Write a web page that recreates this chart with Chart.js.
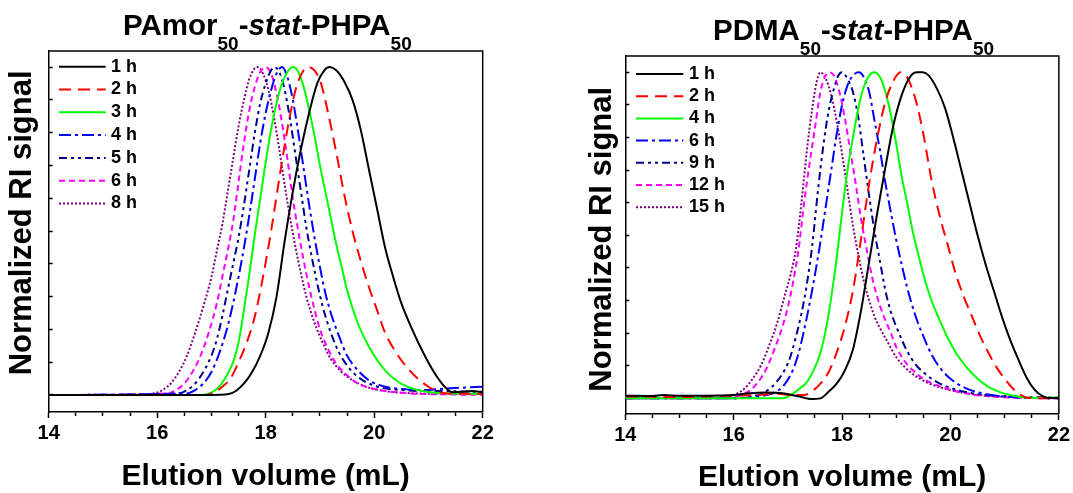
<!DOCTYPE html>
<html>
<head>
<meta charset="utf-8">
<script src="https://cdn.jsdelivr.net/npm/chart.js@4"></script>
<style>
  html, body { margin: 0; padding: 0; background: #fff; }
  body { width: 1073px; height: 493px; position: relative; overflow: hidden; font-family: "Liberation Sans", Arial, sans-serif; }
  .panel { position: absolute; top: 0; }
  .title { position: absolute; font-weight: bold; font-size: 29.5px; line-height: 30px; white-space: nowrap; color: #000; }
  .title sub { font-size: 19px; vertical-align: -15px; line-height: 0; }
</style>
</head>
<body>
<canvas id="left" class="panel" width="540" height="493" style="left:0"></canvas>
<canvas id="right" class="panel" width="533" height="493" style="left:540px"></canvas>
<div class="title" style="left:123px; top:10px">PAmor<sub>50</sub>-<i>stat</i>-PHPA<sub>50</sub></div>
<div class="title" style="left:713px; top:15px">PDMA<sub>50</sub>-<i>stat</i>-PHPA<sub>50</sub></div>
<script>
'use strict'

// ---- data: [elution volume (mL), normalized RI] ----

// PAmor50-stat-PHPA50
const pamorLabels = ['1 h', '2 h', '3 h', '4 h', '5 h', '6 h', '8 h']
const pamor1h = [[14, 0], [17.0, 0], [17.3, 0.002], [17.45, 0.012], [17.6, 0.035], [17.75, 0.07], [17.9, 0.12], [18.05, 0.19], [18.2, 0.3], [18.35, 0.47], [18.5, 0.62], [18.65, 0.75], [18.8, 0.86], [18.95, 0.95], [19.08, 0.99], [19.18, 1.0], [19.3, 0.99], [19.45, 0.955], [19.6, 0.9], [19.75, 0.81], [19.9, 0.69], [20.05, 0.57], [20.2, 0.45], [20.35, 0.36], [20.5, 0.28], [20.7, 0.2], [20.9, 0.13], [21.1, 0.07], [21.3, 0.025], [21.45, 0.008], [21.6, 0.01], [21.8, 0.012], [22, 0.008]]
const pamor2h = [[14, 0], [16.9, 0], [17.05, 0.008], [17.2, 0.025], [17.35, 0.05], [17.5, 0.1], [17.65, 0.16], [17.8, 0.24], [17.95, 0.36], [18.1, 0.5], [18.25, 0.66], [18.4, 0.81], [18.55, 0.93], [18.68, 0.985], [18.79, 1.0], [18.9, 0.99], [19.02, 0.95], [19.15, 0.86], [19.3, 0.74], [19.45, 0.61], [19.6, 0.5], [19.75, 0.41], [19.9, 0.33], [20.05, 0.26], [20.2, 0.19], [20.4, 0.13], [20.6, 0.085], [20.8, 0.05], [21.0, 0.025], [21.15, 0.012], [21.3, 0.005], [21.6, 0.004], [22, 0.003]]
const pamor3h = [[14, 0], [16.8, 0], [16.95, 0.004], [17.1, 0.018], [17.25, 0.05], [17.4, 0.1], [17.5, 0.16], [17.6, 0.26], [17.7, 0.37], [17.8, 0.49], [17.9, 0.6], [18.0, 0.71], [18.1, 0.81], [18.2, 0.89], [18.3, 0.95], [18.4, 0.985], [18.51, 1.0], [18.6, 0.985], [18.7, 0.94], [18.8, 0.87], [18.9, 0.79], [19.0, 0.7], [19.1, 0.62], [19.2, 0.54], [19.3, 0.46], [19.4, 0.39], [19.5, 0.32], [19.65, 0.24], [19.8, 0.18], [20.0, 0.12], [20.2, 0.075], [20.4, 0.045], [20.6, 0.026], [20.8, 0.015], [21.0, 0.009], [21.3, 0.005], [21.6, 0.004], [22, 0.003]]
const pamor4h = [[14, 0], [16.55, 0.005], [16.7, 0.015], [16.85, 0.035], [17.0, 0.07], [17.15, 0.13], [17.3, 0.21], [17.4, 0.28], [17.5, 0.36], [17.6, 0.45], [17.7, 0.55], [17.8, 0.66], [17.9, 0.77], [18.0, 0.86], [18.1, 0.93], [18.2, 0.98], [18.3, 1.0], [18.4, 0.97], [18.5, 0.9], [18.6, 0.8], [18.7, 0.69], [18.8, 0.58], [18.9, 0.48], [19.0, 0.39], [19.1, 0.31], [19.2, 0.25], [19.35, 0.18], [19.5, 0.12], [19.7, 0.075], [19.9, 0.045], [20.1, 0.03], [20.3, 0.022], [20.6, 0.017], [20.9, 0.015], [21.2, 0.018], [21.6, 0.022], [22, 0.025]]
const pamor5h = [[14, 0], [16.4, 0.005], [16.55, 0.015], [16.7, 0.035], [16.85, 0.07], [17.0, 0.12], [17.1, 0.17], [17.2, 0.24], [17.3, 0.32], [17.4, 0.4], [17.5, 0.48], [17.6, 0.58], [17.7, 0.69], [17.8, 0.8], [17.9, 0.89], [18.0, 0.95], [18.1, 0.99], [18.16, 1.0], [18.25, 0.985], [18.35, 0.93], [18.45, 0.84], [18.55, 0.73], [18.65, 0.62], [18.75, 0.51], [18.85, 0.42], [18.95, 0.34], [19.05, 0.27], [19.2, 0.19], [19.35, 0.13], [19.5, 0.09], [19.7, 0.055], [19.9, 0.035], [20.2, 0.02], [20.5, 0.015], [20.9, 0.012], [21.3, 0.012], [21.7, 0.01], [22, 0.01]]
const pamor6h = [[14, 0], [16.2, 0.005], [16.35, 0.015], [16.5, 0.035], [16.65, 0.07], [16.8, 0.12], [16.95, 0.19], [17.1, 0.28], [17.2, 0.36], [17.3, 0.44], [17.4, 0.53], [17.5, 0.65], [17.6, 0.77], [17.7, 0.87], [17.8, 0.94], [17.9, 0.985], [18.0, 1.0], [18.1, 0.98], [18.2, 0.92], [18.3, 0.83], [18.4, 0.72], [18.5, 0.6], [18.6, 0.5], [18.7, 0.41], [18.8, 0.33], [18.9, 0.26], [19.0, 0.2], [19.15, 0.14], [19.3, 0.095], [19.5, 0.06], [19.7, 0.035], [20.0, 0.018], [20.3, 0.01], [20.7, 0.004], [21.2, 0.002], [22, 0]]
const pamor8h = [[14, 0], [15.8, 0], [15.95, 0.005], [16.1, 0.015], [16.25, 0.035], [16.4, 0.07], [16.55, 0.12], [16.7, 0.19], [16.85, 0.27], [17.0, 0.36], [17.1, 0.44], [17.2, 0.52], [17.3, 0.62], [17.4, 0.72], [17.5, 0.82], [17.6, 0.9], [17.7, 0.965], [17.84, 1.0], [17.95, 0.98], [18.05, 0.93], [18.15, 0.85], [18.25, 0.75], [18.35, 0.64], [18.45, 0.54], [18.55, 0.45], [18.65, 0.37], [18.75, 0.3], [18.9, 0.22], [19.05, 0.16], [19.2, 0.11], [19.4, 0.07], [19.6, 0.045], [19.85, 0.025], [20.2, 0.012], [20.6, 0.006], [21.0, 0.004], [22, 0.003]]

// PDMA50-stat-PHPA50
const pdmaLabels = ['1 h', '2 h', '4 h', '6 h', '9 h', '12 h', '15 h']
const pdma1h = [[14, 0.008], [14.5, 0.007], [14.7, 0.01], [15, 0.008], [15.5, 0.008], [16, 0.01], [16.3, 0.016], [16.6, 0.018], [16.9, 0.016], [17.2, 0.006], [17.45, -0.002], [17.6, 0], [17.75, 0.02], [17.9, 0.045], [18.05, 0.085], [18.2, 0.15], [18.35, 0.27], [18.5, 0.42], [18.65, 0.57], [18.8, 0.71], [18.95, 0.84], [19.1, 0.93], [19.25, 0.985], [19.38, 1.0], [19.49, 1.0], [19.6, 0.99], [19.75, 0.95], [19.9, 0.89], [20.05, 0.8], [20.2, 0.7], [20.35, 0.6], [20.5, 0.5], [20.65, 0.41], [20.8, 0.33], [20.95, 0.25], [21.1, 0.18], [21.25, 0.12], [21.4, 0.065], [21.55, 0.027], [21.7, 0.007], [21.85, 0.001], [22, 0.001]]
const pdma2h = [[14, 0.006], [14.5, 0.005], [15, 0.004], [15.5, 0.006], [16, 0.008], [16.4, 0.01], [16.8, 0.014], [17.1, 0.01], [17.3, 0.01], [17.45, 0.022], [17.6, 0.045], [17.75, 0.08], [17.9, 0.14], [18.05, 0.22], [18.2, 0.33], [18.35, 0.49], [18.5, 0.66], [18.65, 0.8], [18.8, 0.91], [18.95, 0.975], [19.08, 1.0], [19.2, 0.985], [19.35, 0.92], [19.5, 0.81], [19.65, 0.67], [19.8, 0.56], [19.95, 0.47], [20.1, 0.38], [20.25, 0.31], [20.4, 0.25], [20.55, 0.19], [20.7, 0.14], [20.85, 0.095], [21.0, 0.06], [21.15, 0.03], [21.3, 0.01], [21.45, 0.001], [22, 0]]
const pdma4h = [[14, 0], [16.9, 0], [17.05, 0.01], [17.2, 0.028], [17.35, 0.05], [17.5, 0.095], [17.6, 0.14], [17.7, 0.21], [17.8, 0.31], [17.9, 0.43], [18.0, 0.57], [18.1, 0.7], [18.2, 0.8], [18.3, 0.89], [18.4, 0.955], [18.5, 0.99], [18.59, 1.0], [18.7, 0.985], [18.8, 0.94], [18.9, 0.87], [19.0, 0.78], [19.1, 0.68], [19.2, 0.6], [19.3, 0.515], [19.4, 0.445], [19.5, 0.38], [19.65, 0.3], [19.8, 0.24], [19.95, 0.185], [20.1, 0.14], [20.3, 0.095], [20.5, 0.06], [20.7, 0.035], [20.9, 0.02], [21.1, 0.01], [21.3, 0.004], [21.6, 0.001], [22, 0.003]]
const pdma6h = [[14, 0], [16.0, 0], [16.3, 0.003], [16.6, 0.01], [16.8, 0.022], [16.95, 0.045], [17.1, 0.09], [17.2, 0.14], [17.3, 0.21], [17.4, 0.29], [17.5, 0.38], [17.6, 0.48], [17.7, 0.59], [17.8, 0.7], [17.9, 0.81], [18.0, 0.9], [18.1, 0.96], [18.2, 0.99], [18.31, 1.0], [18.4, 0.985], [18.5, 0.94], [18.6, 0.85], [18.7, 0.76], [18.8, 0.66], [18.9, 0.57], [19.0, 0.485], [19.1, 0.41], [19.2, 0.34], [19.35, 0.255], [19.5, 0.19], [19.65, 0.135], [19.8, 0.095], [20.0, 0.06], [20.3, 0.03], [20.7, 0.012], [21.2, 0.003], [22, 0]]
const pdma9h = [[14, 0], [16.0, 0], [16.3, 0.005], [16.5, 0.013], [16.65, 0.028], [16.8, 0.052], [16.95, 0.09], [17.05, 0.13], [17.15, 0.19], [17.25, 0.26], [17.35, 0.35], [17.45, 0.47], [17.55, 0.63], [17.65, 0.77], [17.75, 0.88], [17.85, 0.95], [17.93, 0.99], [18.0, 1.0], [18.1, 0.98], [18.2, 0.94], [18.3, 0.86], [18.4, 0.74], [18.5, 0.62], [18.6, 0.51], [18.7, 0.42], [18.8, 0.33], [18.9, 0.265], [19.05, 0.2], [19.2, 0.145], [19.35, 0.105], [19.5, 0.08], [19.7, 0.055], [20.0, 0.032], [20.5, 0.013], [21.2, 0.005], [22, 0.002]]
const pdma12h = [[14, 0], [15.9, 0], [16.1, 0.008], [16.3, 0.024], [16.45, 0.05], [16.6, 0.09], [16.75, 0.15], [16.9, 0.22], [17.0, 0.28], [17.1, 0.36], [17.2, 0.46], [17.3, 0.6], [17.4, 0.72], [17.5, 0.83], [17.6, 0.94], [17.68, 0.985], [17.76, 1.0], [17.85, 0.99], [17.95, 0.94], [18.05, 0.86], [18.15, 0.76], [18.25, 0.66], [18.35, 0.55], [18.45, 0.46], [18.55, 0.375], [18.65, 0.31], [18.75, 0.26], [18.9, 0.2], [19.0, 0.157], [19.15, 0.115], [19.3, 0.087], [19.5, 0.06], [19.7, 0.043], [20.2, 0.018], [20.8, 0.005], [22, 0]]
const pdma15h = [[14, 0], [15.8, 0], [16.0, 0.01], [16.2, 0.03], [16.35, 0.06], [16.5, 0.1], [16.65, 0.16], [16.8, 0.23], [16.95, 0.32], [17.05, 0.38], [17.15, 0.46], [17.25, 0.6], [17.35, 0.76], [17.45, 0.89], [17.53, 0.97], [17.6, 1.0], [17.7, 0.98], [17.8, 0.93], [17.9, 0.85], [18.0, 0.75], [18.1, 0.64], [18.2, 0.53], [18.3, 0.44], [18.4, 0.36], [18.5, 0.3], [18.6, 0.25], [18.7, 0.215], [18.85, 0.17], [19.0, 0.126], [19.15, 0.097], [19.3, 0.075], [19.55, 0.05], [19.8, 0.034], [20.4, 0.013], [21.2, 0.003], [22, 0]]

const xTicks = [14, 16, 18, 20, 22]

// one colour and dash per legend row (same order in both panels)
const lineColors = ['#000000', '#ff0000', '#00ff00', '#0000ff', '#00008b', '#ff00ff', '#800080']
const lineDashes = [[], [12, 7], [], [12, 4, 3, 4], [8, 4, 3, 4, 3, 4], [6, 4], [2, 2]]

const FONT = '"Liberation Sans", Arial, sans-serif'

// legend drawn inside the plot box, top-left
const insideLegend = {
  id: 'insideLegend',
  afterDatasetsDraw(chart, args, opts) {
    const { ctx, chartArea } = chart
    ctx.save()
    ctx.font = `bold 18px ${FONT}`
    ctx.textBaseline = 'middle'
    chart.data.datasets.forEach((ds, i) => {
      const x = chartArea.left + opts.left
      const y = chartArea.top + opts.top + i * opts.rowHeight
      ctx.strokeStyle = ds.borderColor
      ctx.lineWidth = ds.borderWidth
      ctx.setLineDash(ds.borderDash)
      ctx.beginPath()
      ctx.moveTo(x, y)
      ctx.lineTo(x + opts.lineLength, y)
      ctx.stroke()
      ctx.setLineDash([])
      ctx.fillStyle = '#000'
      ctx.fillText(ds.label, x + opts.lineLength + opts.gap, y)
    })
    ctx.restore()
  }
}

// closes the box on the top and right
const frame = {
  id: 'frame',
  afterDraw(chart) {
    const { ctx, chartArea: a } = chart
    ctx.save()
    ctx.strokeStyle = '#000'
    ctx.lineWidth = 1.5
    ctx.beginPath()
    ctx.moveTo(a.left, a.top)
    ctx.lineTo(a.right, a.top)
    ctx.lineTo(a.right, a.bottom)
    ctx.stroke()
    ctx.restore()
  }
}

function toPoints(arr) {
  return arr.map(p => ({ x: p[0], y: p[1] }))
}

function makeChart(canvasId, labels, series, box) {
  const datasets = series.map((s, i) => ({
    label: labels[i],
    data: toPoints(s),
    borderColor: lineColors[i],
    borderDash: lineDashes[i],
    borderWidth: 2,
    pointRadius: 0,
    fill: false,
    cubicInterpolationMode: 'monotone'
  }))

  return new Chart(document.getElementById(canvasId), {
    type: 'line',
    data: { datasets },
    options: {
      responsive: false,
      animation: false,
      layout: { padding: { top: box.top, right: box.right, left: 0, bottom: 0 } },
      plugins: {
        legend: { display: false },
        tooltip: { enabled: false },
        insideLegend: box.legend
      },
      scales: {
        x: {
          type: 'linear',
          min: 14,
          max: 22,
          afterFit: scale => { scale.height = box.xHeight },
          border: { color: '#000', width: 1.5 },
          grid: {
            drawOnChartArea: false,
            tickLength: 6,
            tickWidth: 1.5,
            tickColor: '#000',
            tickBorderDash: c => (c.tick && xTicks.includes(c.tick.value) ? [] : [3.5, 20])
          },
          ticks: {
            stepSize: 0.5,
            autoSkip: false,
            maxRotation: 0,
            padding: 3,
            color: '#000',
            font: { family: FONT, size: 20, weight: 'bold' },
            callback: v => (xTicks.includes(v) ? v : '')
          },
          title: {
            display: true,
            text: 'Elution volume (mL)',
            color: '#000',
            font: { family: FONT, size: 30, weight: 'bold', lineHeight: box.xTitleLH },
            padding: 0
          }
        },
        y: {
          type: 'linear',
          min: box.yMin,
          max: box.yMax,
          afterFit: scale => { scale.width = box.yWidth },
          border: { color: '#000', width: 1.5 },
          grid: {
            drawOnChartArea: false,
            tickLength: -4,
            tickWidth: 1.5,
            tickColor: '#000'
          },
          ticks: { stepSize: 0.1, includeBounds: false, display: false },
          title: {
            display: true,
            text: box.yTitle,
            color: '#000',
            font: { family: FONT, size: 31, weight: 'bold' },
            padding: { top: box.yTitlePad, bottom: 0 }
          }
        }
      }
    },
    plugins: [insideLegend, frame]
  })
}

makeChart('left', pamorLabels,
  [pamor1h, pamor2h, pamor3h, pamor4h, pamor5h, pamor6h, pamor8h],
  {
    top: 51, right: 57.3, xHeight: 81, yWidth: 48.7,
    yMin: -0.052, yMax: 1.049, yTitlePad: 4, xTitleLH: 1.1,
    yTitle: '  Normalized RI signal',
    legend: { left: 10.3, top: 15.7, rowHeight: 22.8, lineLength: 46.7, gap: 5.3 }
  })

makeChart('right', pdmaLabels,
  [pdma1h, pdma2h, pdma4h, pdma6h, pdma9h, pdma12h, pdma15h],
  {
    top: 56, right: 13, xHeight: 79, yWidth: 85.3,
    yMin: -0.048, yMax: 1.05, yTitlePad: 43.5, xTitleLH: 1.0,
    yTitle: 'Normalized RI signal ',
    legend: { left: 10.7, top: 18, rowHeight: 22.2, lineLength: 47.3, gap: 5.7 }
  })
</script>
</body>
</html>
